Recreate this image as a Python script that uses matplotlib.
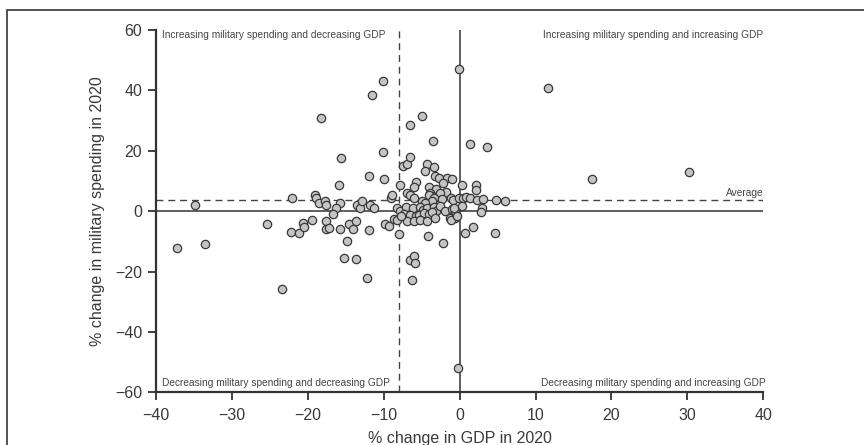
import matplotlib
matplotlib.use("Agg")
import matplotlib.pyplot as plt
from matplotlib.patches import Rectangle

# % change in GDP (x) and % change in military spending (y), 2020
gdp = [-37.2, -33.6, -34.9, -25.4, -23.4, -22.1, -22.2, -21.1, -20.6, -20.5,
       -19.4, -19.1, -18.9, -18.5, -17.7, -17.6, -18.3, -17.6, -17.6, -17.2,
       -15.6, -15.9, -15.8, -16.3, -16.7, -15.7, -15.2, -13.6, -14.8, -14.6,
       -14.0, -13.6, -13.5, -13.1, -12.9, -12.2, -12.0, -11.8, -11.3, -11.9,
       -11.6, -10.1, -10.1, -10.0, -9.8, -9.35, -8.7, -9.1, -8.9, -8.2,
       -7.9, -8.0, -7.9, -7.45, -7.0, -6.5, -6.5, -4.9, -3.5, -4.3,
       -3.4, -4.6, -3.3, -2.7, -1.7, -1.0, -2.2, -5.75, -6.05, -4.1,
       -3.1, -1.75, -1.2, -3.85, -3.6, -7.0, -6.6, -6.05, -2.6, -4.1,
       -3.4, -3.6, -2.3, -4.95, -4.5, -7.1, -6.1, -5.2, -4.8, -4.3,
       -3.4, -3.1, -2.6, -1.9, -1.0, -0.6, -7.3, -6.5, -5.8, -5.3,
       -4.7, -4.1, -3.6, -6.9, -6.05, -5.2, -4.3, -3.2, -1.3, -0.6,
       -6.3, -6.5, -6.05, -5.9, -4.2, -2.2, -0.2, -0.15, 0.3, 2.2,
       2.1, -0.9, -0.1, 0.45, 0.9, 1.3, 2.3, 3.1, 4.8, 6.0,
       0.3, 3.0, 2.8, -0.8, 1.7, 0.75, 4.6, 1.4, 3.6, 11.7,
       17.5, 30.2, -8.2, -7.7, -1.2, -0.4]
milex = [-12.1, -11.0, 2.1, -4.2, -25.7, 4.4, -6.8, -7.3, -4.0, -5.4,
         -3.0, 5.5, 4.2, 2.6, 3.3, 2.2, 30.7, -3.4, -5.9, -5.6,
         17.5, 8.5, 2.7, 1.2, -0.9, -5.8, -15.5, -15.9, -9.9, -4.4,
         -5.9, -3.3, 2.0, 0.9, 3.3, -22.3, 11.6, 2.1, 1.0, -6.4,
         38.6, 43.2, 19.7, 10.5, -4.2, -4.8, -2.75, 4.4, 5.3, 0.9,
         0.0, -7.6, 8.8, 14.8, 15.5, 17.9, 28.4, 31.4, 23.4, 15.5,
         14.5, 13.4, 11.5, 11.0, 11.1, 10.5, 9.4, 9.8, 8.1, 8.0,
         7.2, 6.2, 4.4, 6.1, 4.9, 6.1, 5.2, 4.4, 6.0, 5.5,
         4.3, 3.4, 3.9, 3.2, 2.8, 1.4, 1.1, 1.3, 0.5, 1.1,
         1.4, 0.0, 1.7, 0.0, 0.6, 0.0, -1.1, -1.3, -1.6, -1.2,
         -0.5, -1.1, -0.4, -3.3, -3.2, -2.8, -3.1, -2.2, -2.4, -2.2,
         -22.7, -16.1, -14.7, -17.2, -8.3, -10.6, -51.8, 47.0, 8.8, 8.6,
         6.9, 3.8, 4.4, 4.4, 4.6, 4.3, 3.8, 4.1, 3.6, 3.5,
         1.7, 1.0, -0.3, 1.1, -5.1, -7.2, -7.3, 22.1, 21.1, 40.8,
         10.8, 13.1, -2.9, -1.7, -2.8, -1.5]

avg_gdp = -7.94
avg_milex = 3.6

xticks = [-40, -30, -20, -10, 0, 10, 20, 30, 40]
yticks = [-60, -40, -20, 0, 20, 40, 60]

plt.rcParams["font.family"] = ["Liberation Sans", "DejaVu Sans"]
dark = "#333333"

fig = plt.figure(figsize=(8.64, 4.45), dpi=100)
ax = fig.add_axes([0.1806, 0.1184, 0.7028, 0.8142])

ax.axvline(0, color=dark, lw=1.1, zorder=1)
ax.axhline(0, color=dark, lw=1.1, zorder=1)
ax.axvline(avg_gdp, color="#444444", lw=1.0, ls=(0, (5, 3.5)), zorder=1)
ax.axhline(avg_milex, color="#444444", lw=1.0, ls=(0, (5, 3.5)), zorder=1)

ax.scatter(gdp, milex, s=36, facecolor="#c4c4c4", edgecolor="#383838",
           linewidth=0.9, zorder=3)

ax.set_xlim(-40, 40)
ax.set_ylim(-60, 60)
ax.set_xticks(xticks)
ax.set_yticks(yticks)
ax.set_xticklabels([str(t).replace("-", "\u2212") for t in xticks])
ax.set_yticklabels([str(t).replace("-", "\u2212") for t in yticks])
for s in ["top", "right"]:
    ax.spines[s].set_visible(False)
for s in ["left", "bottom"]:
    ax.spines[s].set_color(dark)
    ax.spines[s].set_linewidth(1.6)
ax.tick_params(direction="out", length=6, width=1.3, color=dark,
               labelcolor="#3a3a3a", labelsize=11.5, pad=4)
ax.tick_params(axis="x", pad=5)

ax.set_xlabel("% change in GDP in 2020", fontsize=11.5, color="#3a3a3a", labelpad=6)
ax.set_ylabel("% change in military spending in 2020", fontsize=11.5, color="#3a3a3a", labelpad=7)

qk = dict(fontsize=7.3, color="#444444", va="center")
ax.text(-39.2, 58.2, "Increasing military spending and decreasing GDP", ha="left", **qk)
ax.text(40, 58.2, "Increasing military spending and increasing GDP", ha="right", **qk)
ax.text(-39.2, -56.9, "Decreasing military spending and decreasing GDP", ha="left", **qk)
ax.text(40.3, -56.9, "Decreasing military spending and increasing GDP", ha="right", **qk)
ax.text(40, 4.3, "Average", ha="right", va="bottom", fontsize=7.3, color="#444444")

# outer frame (only the top and left edges fall inside the image)
fig.add_artist(Rectangle((7 / 864, -0.2), 1.2, 1.2 - 10 / 445, transform=fig.transFigure,
                         fill=False, edgecolor="#444444", lw=1.3, clip_on=False))

fig.savefig("out.png", dpi=100)
